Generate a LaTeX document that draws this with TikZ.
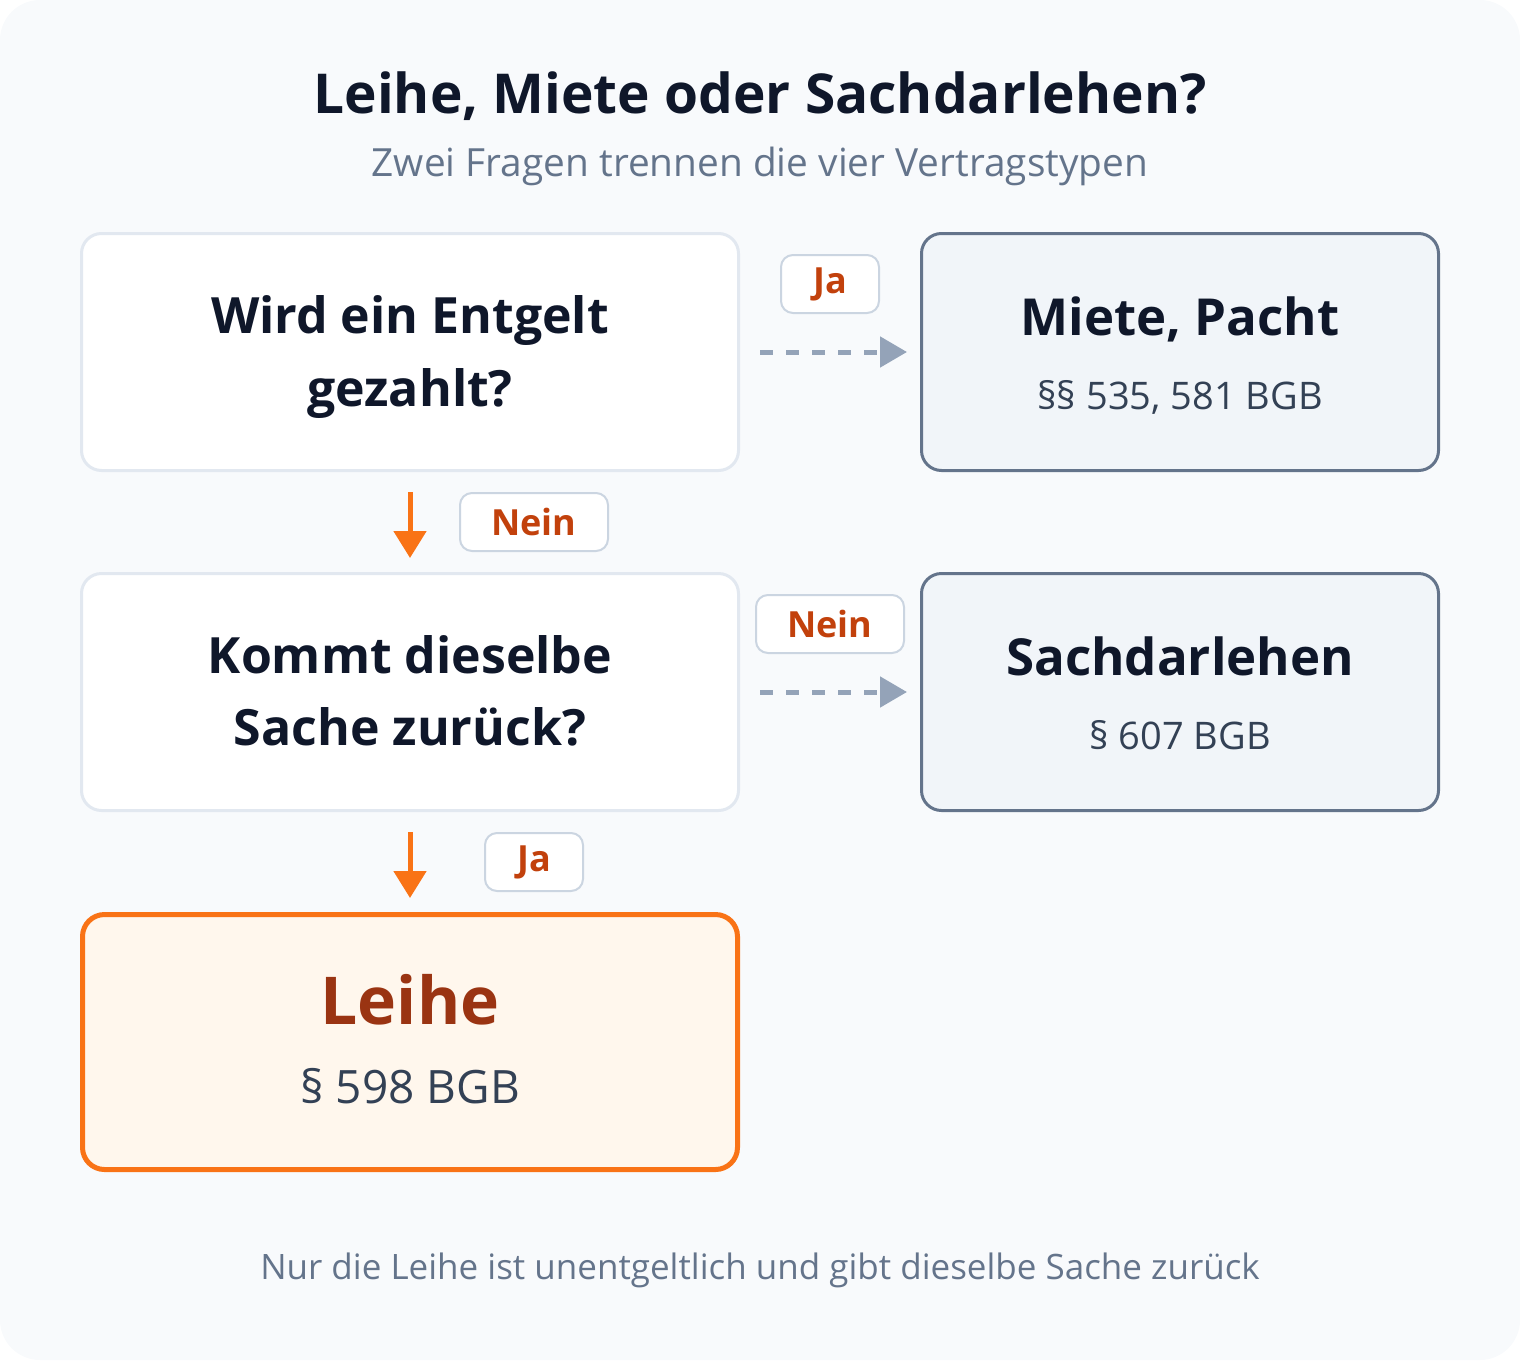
\documentclass[tikz,border=0pt]{standalone}
\usepackage{fontspec}
\setmainfont{Open Sans}
\usetikzlibrary{arrows.meta}

\definecolor{ink}{HTML}{0F172A}
\definecolor{muted}{HTML}{64748B}
\definecolor{lawtext}{HTML}{334155}
\definecolor{bgc}{HTML}{F8FAFC}
\definecolor{qline}{HTML}{E2E8F0}
\definecolor{rline}{HTML}{64748B}
\definecolor{rfill}{HTML}{F1F5F9}
\definecolor{tagline}{HTML}{CBD5E1}
\definecolor{tagtext}{HTML}{C2410C}
\definecolor{hitline}{HTML}{F97316}
\definecolor{hitfill}{HTML}{FFF7ED}
\definecolor{hittext}{HTML}{9A3412}
\definecolor{dashc}{HTML}{94A3B8}

\tikzset{
  qbox/.style={draw=qline, line width=3pt, fill=white, rounded corners=20pt,
    minimum width=657pt, minimum height=237pt},
  rbox/.style={draw=rline, line width=3pt, fill=rfill, rounded corners=20pt,
    minimum width=517pt, minimum height=237pt},
  hitbox/.style={draw=hitline, line width=5pt, fill=hitfill, rounded corners=22pt,
    minimum width=655pt, minimum height=255pt},
  tag/.style={draw=tagline, line width=2pt, fill=white, rounded corners=12pt,
    minimum height=58pt, text=tagtext, font=\fontsize{36}{42}\selectfont\bfseries},
  txt/.style={anchor=base, inner sep=0pt},
  qtext/.style={txt, text=ink, font=\fontsize{50}{60}\selectfont\bfseries},
  rtext/.style={txt, text=ink, font=\fontsize{51}{60}\selectfont\bfseries},
  lawline/.style={txt, text=lawtext, font=\fontsize{38}{46}\selectfont},
  nobranch/.style={draw=dashc, line width=5pt, dash pattern=on 13pt off 13pt,
    -{Triangle[length=27pt, width=30pt]}},
  yesbranch/.style={draw=hitline, line width=5pt, -{Triangle[length=27pt, width=32pt]}}
}

\begin{document}
\begin{tikzpicture}[x=1pt, y=-1pt]
  \useasboundingbox (0,0) rectangle (1520,1360);
  \fill[bgc, rounded corners=40pt] (0,0) rectangle (1520,1360);

  % Kopf
  \node[txt, text=ink, font=\fontsize{55}{66}\selectfont\bfseries] (TT) at (760,113) {Leihe, Miete oder Sachdarlehen?};
  \node[txt, text=muted, font=\fontsize{38.8}{46}\selectfont] (ST) at (760,176) {Zwei Fragen trennen die vier Vertragstypen};

  % Kaesten
  \node[qbox] (QA) at (410,352) {};
  \node[rbox] (RA) at (1180,352) {};
  \node[qbox] (QB) at (410,692) {};
  \node[rbox] (RB) at (1180,692) {};
  \node[hitbox] (LE) at (410,1042) {};

  \node[qtext] (QAa) at (410,333) {Wird ein Entgelt};
  \node[qtext] (QAb) at (410,406) {gezahlt?};
  \node[qtext] (QBa) at (410,673) {Kommt dieselbe};
  \node[qtext] (QBb) at (410,745) {Sache zurück?};

  \node[rtext] (RAa) at (1180,335) {Miete, Pacht};
  \node[lawline] (RAb) at (1180,409) {§§ 535, 581 BGB};
  \node[rtext] (RBa) at (1180,675) {Sachdarlehen};
  \node[lawline] (RBb) at (1180,749) {§ 607 BGB};

  \node[txt, text=hittext, font=\fontsize{66}{80}\selectfont\bfseries] (LEa) at (410,1024) {Leihe};
  \node[txt, text=lawtext, font=\fontsize{46}{54}\selectfont] (LEb) at (410,1103) {§ 598 BGB};

  % Pfeile
  \draw[nobranch, shorten <=20pt, shorten >=13pt] (QA) -- (RA);
  \draw[nobranch, shorten <=20pt, shorten >=13pt] (QB) -- (RB);
  \draw[yesbranch, shorten <=20pt, shorten >=14pt] (QA) -- (QB);
  \draw[yesbranch, shorten <=20pt, shorten >=14pt] (QB) -- (LE);

  % Antworten
  \node[tag, minimum width=98pt] (JA) at (830,284) {Ja};
  \node[tag, minimum width=148pt] (NA) at (534,522) {Nein};
  \node[tag, minimum width=148pt] (NB) at (830,624) {Nein};
  \node[tag, minimum width=98pt] (JB) at (534,862) {Ja};

  % Fuss
  \node[txt, text=muted, font=\fontsize{35}{42}\selectfont] (FT) at (760,1279) {Nur die Leihe ist unentgeltlich und gibt dieselbe Sache zurück};
\end{tikzpicture}
\end{document}
